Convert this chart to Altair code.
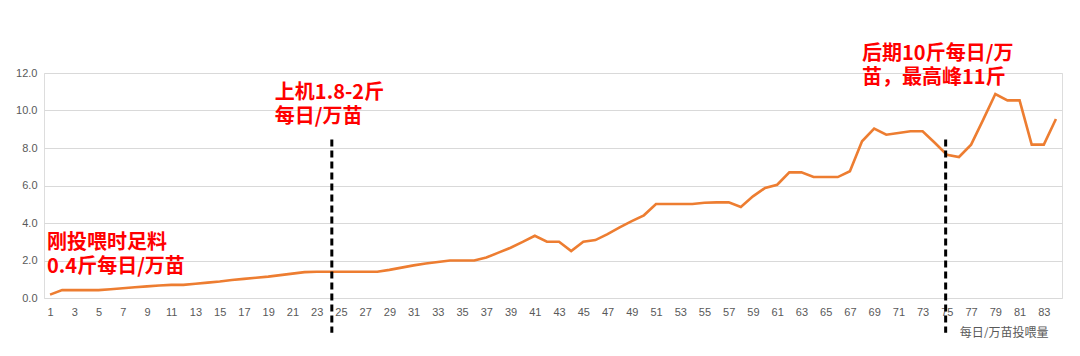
import altair as alt
import pandas as pd

# Day index and daily feed amount (斤 per 万苗 per day)
days = list(range(1, 85))
feed = [
    0.18, 0.42, 0.42, 0.42, 0.42, 0.47, 0.52, 0.57, 0.62, 0.67,
    0.70, 0.70, 0.76, 0.82, 0.88, 0.96, 1.02, 1.08, 1.14, 1.22,
    1.30, 1.38, 1.40, 1.40, 1.40, 1.40, 1.40, 1.40, 1.50, 1.62,
    1.74, 1.84, 1.92, 2.00, 2.00, 2.00, 2.16, 2.42, 2.68, 2.99,
    3.32, 3.00, 3.00, 2.50, 3.00, 3.09, 3.41, 3.77, 4.10, 4.41,
    5.01, 5.01, 5.01, 5.01, 5.08, 5.10, 5.10, 4.85, 5.42, 5.87,
    6.04, 6.70, 6.70, 6.45, 6.45, 6.45, 6.76, 8.36, 9.03, 8.71,
    8.80, 8.89, 8.89, 8.28, 7.64, 7.52, 8.18, 9.51, 10.88, 10.54,
    10.54, 8.18, 8.18, 9.55,
]

x_ticks = list(range(1, 84, 2))
y_ticks = [0, 2, 4, 6, 8, 10, 12]

# Vertical dashed markers (x position, top value, bottom value)
marker_x = [24.25, 74.9]
marker_top = [8.45, 8.45]
marker_bottom = [-1.85, -1.85]

# Annotations (left x, value at first line, two-line text)
note_x = [0.75, 19.55, 68.0]
note_y = [2.91, 10.91, 12.99]
note_text = [
    "刚投喂时足料\n0.4斤每日/万苗",
    "上机1.8-2斤\n每日/万苗",
    "后期10斤每日/万\n苗，最高峰11斤",
]

df = pd.DataFrame({"day": days, "feed": feed})
marks_df = pd.DataFrame({"x": marker_x, "top": marker_top, "bottom": marker_bottom})
notes_df = pd.DataFrame({"x": note_x, "y": note_y, "text": note_text})

x_scale = alt.Scale(domain=[0.5, 84.5], nice=False, zero=False)
y_scale = alt.Scale(domain=[0, 12], nice=False)

line = alt.Chart(df).mark_line(color="#ED7D31", strokeWidth=2.6).encode(
    x=alt.X(
        "day:Q",
        scale=x_scale,
        axis=alt.Axis(
            values=x_ticks,
            tickCount=200,
            format="d",
            grid=False,
            domain=False,
            ticks=False,
            labelPadding=8,
            labelFontSize=11,
            labelColor="#595959",
            labelFont="Liberation Sans",
            title="每日/万苗投喂量",
            titleFont="Noto Sans CJK SC",
            titleFontSize=12,
            titleFontWeight="normal",
            titleColor="#595959",
            titleAnchor="end",
            titleAlign="right",
            titleX=1004,
            titleY=34,
            titleBaseline="middle",
            labelOverlap=False,
        ),
    ),
    y=alt.Y(
        "feed:Q",
        scale=y_scale,
        axis=alt.Axis(
            values=y_ticks,
            tickCount=50,
            format=".1f",
            grid=True,
            gridColor="#d9d9d9",
            gridWidth=1,
            domain=False,
            ticks=False,
            labelPadding=7,
            labelFontSize=11,
            labelColor="#595959",
            labelFont="Liberation Sans",
            labelOverlap=False,
            title=None,
        ),
    ),
)

rules = alt.Chart(marks_df).mark_rule(
    color="#000000", strokeWidth=3, strokeDash=[7, 4]
).encode(
    x=alt.X("x:Q", scale=x_scale),
    y=alt.Y("top:Q", scale=y_scale),
    y2="bottom:Q",
)

notes = alt.Chart(notes_df).mark_text(
    align="left",
    baseline="middle",
    color="#FF0000",
    font="Noto Sans CJK SC",
    fontWeight="bold",
    fontSize=20,
    lineBreak="\n",
    lineHeight=24,
).encode(
    x=alt.X("x:Q", scale=x_scale),
    y=alt.Y("y:Q", scale=y_scale),
    text="text:N",
)

chart = (
    alt.layer(line, rules, notes)
    .properties(
        width=1018,
        height=225,
        padding={"left": 36, "top": 65, "right": 10, "bottom": 40},
        autosize=alt.AutoSizeParams(type="none"),
    )
    .configure_view(stroke=None)
    .configure(background="white")
)

chart.save("out.html", embed_options={"renderer": "svg", "actions": False})
